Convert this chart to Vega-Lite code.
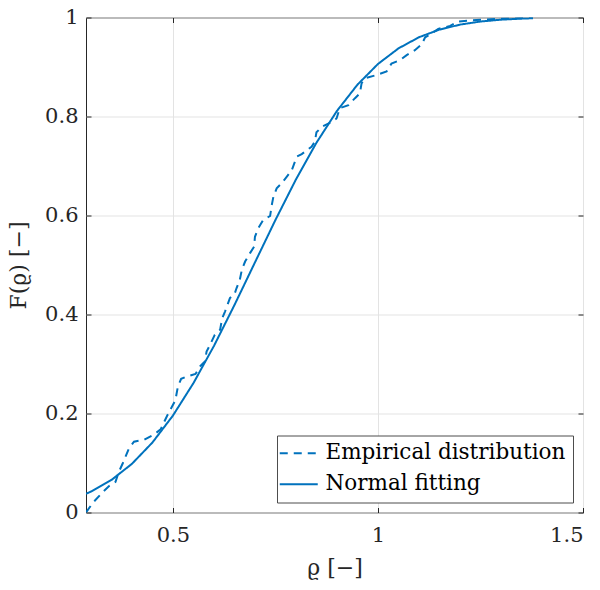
{
  "$schema": "https://vega.github.io/schema/vega-lite/v6.json",
  "width": 497,
  "height": 495,
  "autosize": "none",
  "padding": {"left": 86, "top": 17.5, "right": 17, "bottom": 77.5},
  "background": "white",
  "config": {
    "view": {"stroke": "#262626", "strokeWidth": 1},
    "font": "DejaVu Serif",
    "axis": {
      "labelFont": "DejaVu Serif",
      "labelFontSize": 21,
      "labelColor": "#262626",
      "titleFont": "DejaVu Serif",
      "titleFontSize": 22,
      "titleFontWeight": "normal",
      "titleColor": "#262626",
      "tickColor": "#262626",
      "domainColor": "#262626",
      "gridColor": "#e3e3e3",
      "gridWidth": 1
    },
    "legend": {
      "labelFont": "DejaVu Serif",
      "labelFontSize": 21.5,
      "labelColor": "#000000",
      "labelLimit": 400
    }
  },
  "data": {
    "values": [
      {"x": 0.288, "F": 0.0, "s": "Empirical distribution"},
      {"x": 0.305, "F": 0.02, "s": "Empirical distribution"},
      {"x": 0.33, "F": 0.042, "s": "Empirical distribution"},
      {"x": 0.345, "F": 0.054, "s": "Empirical distribution"},
      {"x": 0.36, "F": 0.062, "s": "Empirical distribution"},
      {"x": 0.367, "F": 0.08, "s": "Empirical distribution"},
      {"x": 0.378, "F": 0.1, "s": "Empirical distribution"},
      {"x": 0.393, "F": 0.13, "s": "Empirical distribution"},
      {"x": 0.405, "F": 0.143, "s": "Empirical distribution"},
      {"x": 0.43, "F": 0.147, "s": "Empirical distribution"},
      {"x": 0.453, "F": 0.157, "s": "Empirical distribution"},
      {"x": 0.47, "F": 0.168, "s": "Empirical distribution"},
      {"x": 0.485, "F": 0.194, "s": "Empirical distribution"},
      {"x": 0.506, "F": 0.227, "s": "Empirical distribution"},
      {"x": 0.512, "F": 0.254, "s": "Empirical distribution"},
      {"x": 0.52, "F": 0.27, "s": "Empirical distribution"},
      {"x": 0.535, "F": 0.275, "s": "Empirical distribution"},
      {"x": 0.555, "F": 0.28, "s": "Empirical distribution"},
      {"x": 0.566, "F": 0.295, "s": "Empirical distribution"},
      {"x": 0.578, "F": 0.305, "s": "Empirical distribution"},
      {"x": 0.582, "F": 0.325, "s": "Empirical distribution"},
      {"x": 0.59, "F": 0.338, "s": "Empirical distribution"},
      {"x": 0.602, "F": 0.359, "s": "Empirical distribution"},
      {"x": 0.615, "F": 0.369, "s": "Empirical distribution"},
      {"x": 0.62, "F": 0.392, "s": "Empirical distribution"},
      {"x": 0.627, "F": 0.406, "s": "Empirical distribution"},
      {"x": 0.639, "F": 0.433, "s": "Empirical distribution"},
      {"x": 0.651, "F": 0.443, "s": "Empirical distribution"},
      {"x": 0.655, "F": 0.453, "s": "Empirical distribution"},
      {"x": 0.663, "F": 0.47, "s": "Empirical distribution"},
      {"x": 0.668, "F": 0.49, "s": "Empirical distribution"},
      {"x": 0.676, "F": 0.507, "s": "Empirical distribution"},
      {"x": 0.688, "F": 0.524, "s": "Empirical distribution"},
      {"x": 0.698, "F": 0.537, "s": "Empirical distribution"},
      {"x": 0.7, "F": 0.557, "s": "Empirical distribution"},
      {"x": 0.708, "F": 0.574, "s": "Empirical distribution"},
      {"x": 0.72, "F": 0.591, "s": "Empirical distribution"},
      {"x": 0.737, "F": 0.599, "s": "Empirical distribution"},
      {"x": 0.741, "F": 0.621, "s": "Empirical distribution"},
      {"x": 0.745, "F": 0.638, "s": "Empirical distribution"},
      {"x": 0.753, "F": 0.655, "s": "Empirical distribution"},
      {"x": 0.765, "F": 0.665, "s": "Empirical distribution"},
      {"x": 0.781, "F": 0.682, "s": "Empirical distribution"},
      {"x": 0.79, "F": 0.692, "s": "Empirical distribution"},
      {"x": 0.802, "F": 0.719, "s": "Empirical distribution"},
      {"x": 0.814, "F": 0.724, "s": "Empirical distribution"},
      {"x": 0.838, "F": 0.739, "s": "Empirical distribution"},
      {"x": 0.846, "F": 0.749, "s": "Empirical distribution"},
      {"x": 0.85, "F": 0.768, "s": "Empirical distribution"},
      {"x": 0.863, "F": 0.779, "s": "Empirical distribution"},
      {"x": 0.887, "F": 0.789, "s": "Empirical distribution"},
      {"x": 0.899, "F": 0.796, "s": "Empirical distribution"},
      {"x": 0.907, "F": 0.817, "s": "Empirical distribution"},
      {"x": 0.928, "F": 0.823, "s": "Empirical distribution"},
      {"x": 0.944, "F": 0.837, "s": "Empirical distribution"},
      {"x": 0.956, "F": 0.847, "s": "Empirical distribution"},
      {"x": 0.96, "F": 0.867, "s": "Empirical distribution"},
      {"x": 0.968, "F": 0.877, "s": "Empirical distribution"},
      {"x": 0.997, "F": 0.884, "s": "Empirical distribution"},
      {"x": 1.021, "F": 0.891, "s": "Empirical distribution"},
      {"x": 1.033, "F": 0.907, "s": "Empirical distribution"},
      {"x": 1.054, "F": 0.914, "s": "Empirical distribution"},
      {"x": 1.07, "F": 0.924, "s": "Empirical distribution"},
      {"x": 1.09, "F": 0.934, "s": "Empirical distribution"},
      {"x": 1.107, "F": 0.946, "s": "Empirical distribution"},
      {"x": 1.115, "F": 0.96, "s": "Empirical distribution"},
      {"x": 1.135, "F": 0.97, "s": "Empirical distribution"},
      {"x": 1.147, "F": 0.977, "s": "Empirical distribution"},
      {"x": 1.176, "F": 0.983, "s": "Empirical distribution"},
      {"x": 1.196, "F": 0.992, "s": "Empirical distribution"},
      {"x": 1.24, "F": 0.995, "s": "Empirical distribution"},
      {"x": 1.285, "F": 0.997, "s": "Empirical distribution"},
      {"x": 1.378, "F": 1.0, "s": "Empirical distribution"},
      {"x": 0.288, "F": 0.0377, "s": "Normal fitting"},
      {"x": 0.3, "F": 0.0422, "s": "Normal fitting"},
      {"x": 0.35, "F": 0.0657, "s": "Normal fitting"},
      {"x": 0.4, "F": 0.0983, "s": "Normal fitting"},
      {"x": 0.45, "F": 0.1414, "s": "Normal fitting"},
      {"x": 0.5, "F": 0.1958, "s": "Normal fitting"},
      {"x": 0.55, "F": 0.2614, "s": "Normal fitting"},
      {"x": 0.6, "F": 0.3365, "s": "Normal fitting"},
      {"x": 0.65, "F": 0.4191, "s": "Normal fitting"},
      {"x": 0.7, "F": 0.5052, "s": "Normal fitting"},
      {"x": 0.75, "F": 0.591, "s": "Normal fitting"},
      {"x": 0.8, "F": 0.6729, "s": "Normal fitting"},
      {"x": 0.85, "F": 0.747, "s": "Normal fitting"},
      {"x": 0.9, "F": 0.8113, "s": "Normal fitting"},
      {"x": 0.95, "F": 0.8643, "s": "Normal fitting"},
      {"x": 1.0, "F": 0.9061, "s": "Normal fitting"},
      {"x": 1.05, "F": 0.9376, "s": "Normal fitting"},
      {"x": 1.1, "F": 0.9601, "s": "Normal fitting"},
      {"x": 1.15, "F": 0.9756, "s": "Normal fitting"},
      {"x": 1.2, "F": 0.9856, "s": "Normal fitting"},
      {"x": 1.25, "F": 0.9919, "s": "Normal fitting"},
      {"x": 1.3, "F": 0.9956, "s": "Normal fitting"},
      {"x": 1.35, "F": 0.9977, "s": "Normal fitting"},
      {"x": 1.378, "F": 0.9985, "s": "Normal fitting"}
    ]
  },
  "resolve": {"axis": {"x": "independent", "y": "independent"}},
  "layer": [
    {
      "transform": [{"filter": "datum.s === 'Empirical distribution'"}],
      "mark": {"type": "line", "strokeWidth": 2, "clip": true},
      "encoding": {
        "x": {
          "field": "x", "type": "quantitative",
          "scale": {"domain": [0.288, 1.5], "nice": false, "zero": false},
          "axis": {
            "orient": "bottom", "title": "ϱ [−]", "values": [0.5, 1, 1.5], "format": "~g",
            "tickSize": -5, "labelPadding": 17, "titlePadding": 12, "grid": true, "domain": false
          }
        },
        "y": {
          "field": "F", "type": "quantitative",
          "scale": {"domain": [0, 1], "nice": false},
          "axis": {
            "orient": "left", "title": "F(ϱ) [−]", "values": [0, 0.2, 0.4, 0.6, 0.8, 1], "format": "~g",
            "tickSize": -5, "labelPadding": 13, "titlePadding": 14, "grid": true, "domain": false
          }
        },
        "color": {
          "field": "s", "type": "nominal",
          "scale": {"domain": ["Empirical distribution", "Normal fitting"], "range": ["#0072BD", "#0072BD"]},
          "legend": {
            "title": null, "orient": "bottom-right", "offset": 10, "symbolType": "M-2,0H2",
            "symbolSize": 361, "symbolStrokeWidth": 2, "symbolOffset": 4, "labelOffset": 16, "rowPadding": 8,
            "padding": 7, "fillColor": "white", "strokeColor": "#4d4d4d"
          }
        },
        "strokeDash": {
          "field": "s", "type": "nominal",
          "scale": {"domain": ["Empirical distribution", "Normal fitting"], "range": [[8, 6], [1, 0]]},
          "legend": {
            "title": null, "orient": "bottom-right", "offset": 10, "symbolType": "M-2,0H2",
            "symbolSize": 361, "symbolStrokeWidth": 2, "symbolOffset": 4, "labelOffset": 16, "rowPadding": 8,
            "padding": 7, "fillColor": "white", "strokeColor": "#4d4d4d"
          }
        }
      }
    },
    {
      "transform": [{"filter": "datum.s === 'Normal fitting'"}],
      "mark": {"type": "line", "strokeWidth": 2, "clip": true},
      "encoding": {
        "x": {
          "field": "x", "type": "quantitative",
          "axis": {"orient": "top", "title": null, "labels": false, "values": [0.5, 1, 1.5], "tickSize": -5, "grid": false, "domain": false}
        },
        "y": {
          "field": "F", "type": "quantitative",
          "axis": {"orient": "right", "title": null, "labels": false, "values": [0, 0.2, 0.4, 0.6, 0.8, 1], "tickSize": -5, "grid": false, "domain": false}
        },
        "color": {"field": "s", "type": "nominal"},
        "strokeDash": {"field": "s", "type": "nominal"}
      }
    }
  ]
}
